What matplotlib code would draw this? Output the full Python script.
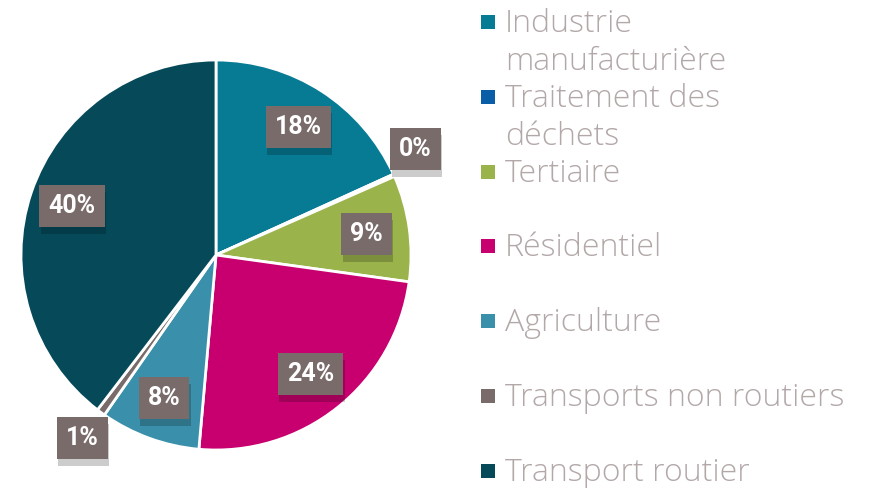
import matplotlib
matplotlib.use("Agg")
import matplotlib.pyplot as plt
import matplotlib.patheffects as pe
import numpy as np

# Chart data (shares in %)
categories = ["Industrie\nmanufacturière", "Traitement des\ndéchets", "Tertiaire",
              "Résidentiel", "Agriculture", "Transports non routiers", "Transport routier"]
values = [18.2, 0.2, 8.8, 24.2, 8.3, 0.7, 39.6]
pct_labels = ["18%", "0%", "9%", "24%", "8%", "1%", "40%"]
colors = ["#077a94", "#0a5ea8", "#9bb34b", "#c8006f", "#3a90aa", "#7a6b6b", "#064a5a"]

label_bg = "#7a6b6b"
legend_color = "#b3a8a8"

fig = plt.figure(figsize=(8.94, 4.88), dpi=100)
fig.patch.set_facecolor("white")

# pie axes: centre (216, 255) px, radius 195 px
ax = fig.add_axes([21 / 894, (488 - 255 - 195) / 488, 390 / 894, 390 / 488])
wedges, texts = ax.pie(values, colors=colors, startangle=90, counterclock=False,
                       radius=1.0, wedgeprops=dict(edgecolor="white", linewidth=2))
ax.set_xlim(-1, 1)
ax.set_ylim(-1, 1)
ax.set_aspect("equal")
ax.axis("off")

# percentage labels in boxes
for w, lab, v in zip(wedges, pct_labels, values):
    mid = np.deg2rad((w.theta1 + w.theta2) / 2)
    r = 0.78 if v > 3 else 1.16
    if lab == "0%":
        mid = np.deg2rad(28)
    t = ax.text(r * np.cos(mid), r * np.sin(mid), lab, ha="center", va="center",
                color="white", fontsize=18, fontweight="bold", family="Roboto",
                bbox=dict(boxstyle="square,pad=0.36", facecolor=label_bg, edgecolor="none"),
                clip_on=False, zorder=5)
    t.get_bbox_patch().set_path_effects([
        pe.SimplePatchShadow(offset=(1, -5), shadow_rgbFace="black", alpha=0.2),
        pe.Normal()])

# legend on the right (one text per line, baselines in px from top)
base0 = 32
step = 74.8
line_h = 38.5
for i, (cat, col) in enumerate(zip(categories, colors)):
    yb = base0 + i * step
    fig.patches.append(plt.Rectangle((481 / 894, 1 - (yb - 3) / 488), 14 / 894, 14 / 488,
                                     transform=fig.transFigure, facecolor=col,
                                     edgecolor="none"))
    for k, line in enumerate(cat.split("\n")):
        fig.text(505 / 894, 1 - (yb + k * line_h) / 488, line, ha="left", va="baseline",
                 fontsize=23, color=legend_color, family="Open Sans", fontweight="light")

fig.savefig("out.png", dpi=100)
